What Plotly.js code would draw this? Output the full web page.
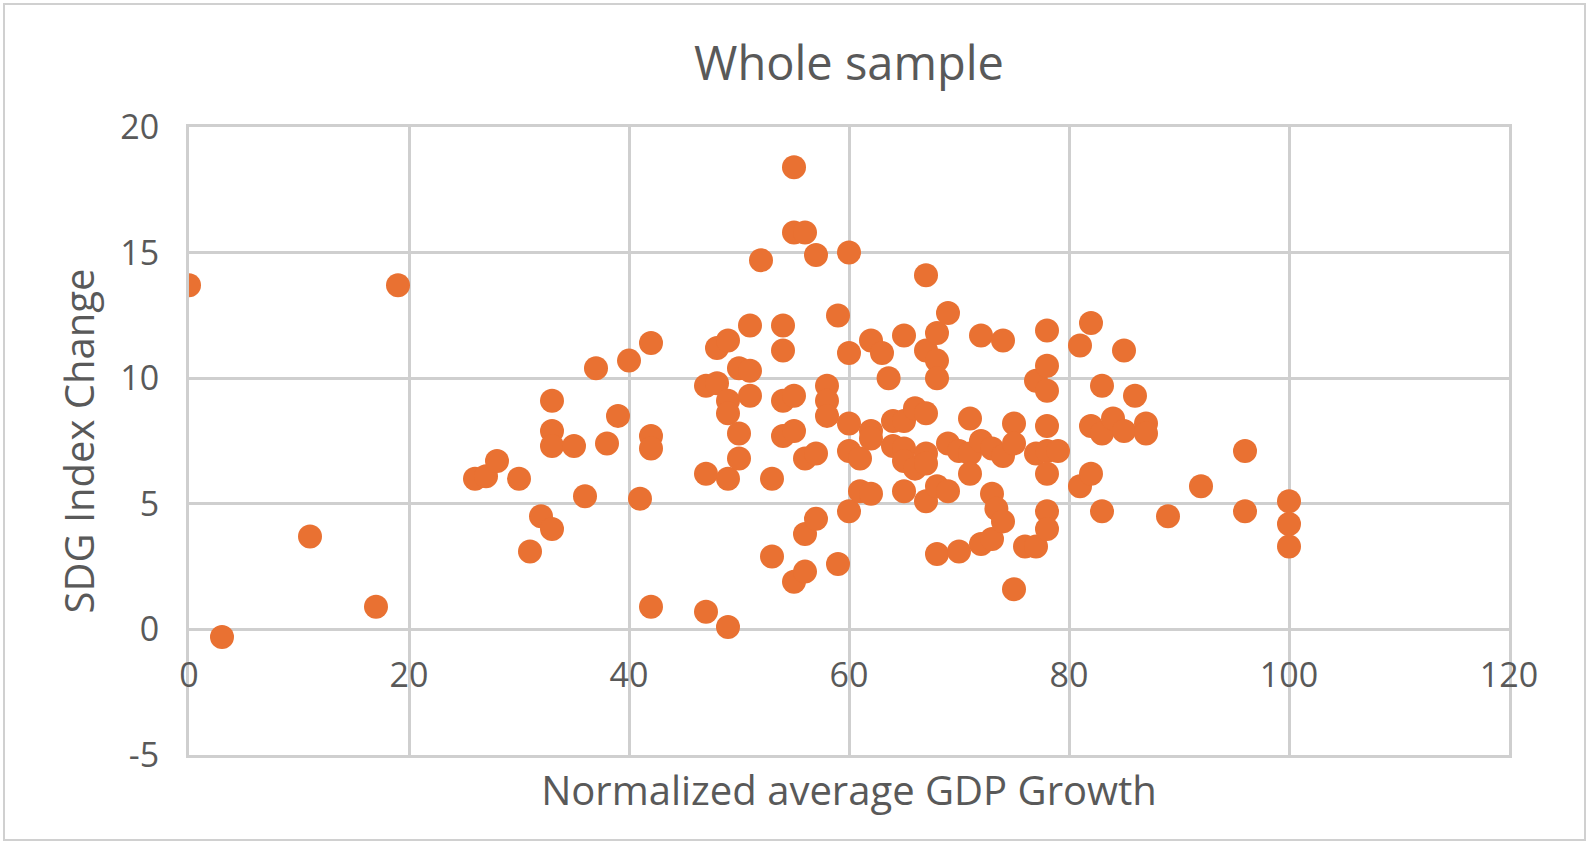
<!DOCTYPE html>
<html>
<head>
<meta charset="utf-8">
<script src="https://cdn.plot.ly/plotly-3.0.1.min.js"></script>
<style>
html,body{margin:0;padding:0;background:#fff;}
#chart{width:1591px;height:846px;}
</style>
</head>
<body>
<div id="chart"></div>
<script>
const chartTitle = "Whole sample";
const xTitle = "Normalized average GDP Growth";
const yTitle = "SDG Index Change";
const xTicks = [0, 20, 40, 60, 80, 100, 120];
const yTicks = [-5, 0, 5, 10, 15, 20];

const gdpGrowth = [
  0, 3, 11, 17, 19, 26, 27, 28, 30, 31, 32, 33, 33, 33, 33, 35, 36, 37, 38, 39,
  40, 41, 42, 42, 42, 42, 47, 47, 47, 48, 48, 49, 49, 49, 49, 49, 50, 50, 50, 51,
  51, 51, 52, 53, 53, 54, 54, 54, 54, 55, 55, 55, 55, 55, 56, 56, 56, 56, 57, 57,
  57, 58, 58, 58, 59, 59, 60, 60, 60, 60, 60, 61, 61, 62, 62, 62, 62, 63, 63.6, 64,
  64, 65, 65, 65, 65, 65, 66, 66, 67, 67, 67, 67, 67, 67, 68, 68, 68, 68, 68, 69,
  69, 69, 70, 70, 71, 71, 71, 72, 72, 72, 73, 73, 73.4, 73, 74, 74, 74, 75, 75, 75,
  76, 77, 77, 77, 78, 78, 78, 78, 78, 78, 78, 78, 79, 81, 81, 82, 82, 82, 83, 83,
  83, 84, 85, 85, 86, 87, 87, 89, 92, 96, 96, 100, 100, 100
];
const sdgChange = [
  13.7, -0.3, 3.7, 0.9, 13.7, 6.0, 6.1, 6.7, 6.0, 3.1, 4.5, 4.0, 9.1, 7.9, 7.3, 7.3, 5.3, 10.4, 7.4, 8.5,
  10.7, 5.2, 11.4, 7.7, 7.2, 0.9, 9.7, 6.2, 0.7, 9.8, 11.2, 11.5, 9.1, 8.6, 6.0, 0.1, 10.4, 7.8, 6.8, 12.1,
  10.3, 9.3, 14.7, 6.0, 2.9, 12.1, 11.1, 9.1, 7.7, 18.4, 15.8, 9.3, 7.9, 1.9, 15.8, 6.8, 3.8, 2.3, 14.9, 7.0,
  4.4, 9.7, 9.1, 8.5, 12.5, 2.6, 15.0, 11.0, 8.2, 7.1, 4.7, 6.8, 5.5, 11.5, 7.9, 7.6, 5.4, 11.0, 10.0, 8.3,
  7.3, 11.7, 8.3, 7.2, 6.7, 5.5, 8.8, 6.4, 14.1, 11.1, 8.6, 7.0, 6.6, 5.1, 11.8, 10.7, 10.0, 5.7, 3.0, 12.6,
  7.4, 5.5, 7.1, 3.1, 8.4, 7.0, 6.2, 11.7, 7.5, 3.4, 7.2, 5.4, 4.8, 3.6, 11.5, 6.9, 4.3, 8.2, 7.4, 1.6,
  3.3, 9.9, 7.0, 3.3, 11.9, 10.5, 9.5, 8.1, 7.1, 6.2, 4.7, 4.0, 7.1, 11.3, 5.7, 12.2, 8.1, 6.2, 9.7, 7.8,
  4.7, 8.4, 11.1, 7.9, 9.3, 8.2, 7.8, 4.5, 5.7, 7.1, 4.7, 5.1, 4.2, 3.3
];

const FONT = '"Open Sans", "Noto Sans", sans-serif';
const TEXT = '#595959';
const GRID = '#cfcfcf';

const traces = [
  {
    type: 'scatter', mode: 'markers',
    x: gdpGrowth, y: sdgChange,
    marker: {size: 24, color: '#E97132', line: {width: 0}},
    hoverinfo: 'x+y', showlegend: false
  },
  {
    type: 'scatter', mode: 'markers', x: [], y: [],
    xaxis: 'x2', yaxis: 'y', showlegend: false, hoverinfo: 'skip'
  }
];

const W = 1591, H = 846;
const L = 189, R = 82, T = 127, B = 91;
const pw = W - L - R, ph = H - T - B;
function px2x(p){ return (p - L) / pw; }
function py2y(p){ return (H - B - p) / ph; }

const layout = {
  width: W, height: H,
  margin: {l: L, r: R, t: T, b: B, pad: 0},
  paper_bgcolor: '#ffffff', plot_bgcolor: '#ffffff',
  font: {family: FONT, color: TEXT},
  title: {
    text: chartTitle,
    font: {size: 47, color: TEXT, family: FONT},
    x: 0.5, xref: 'paper', xanchor: 'center',
    y: 1 - 64 / H, yref: 'container', yanchor: 'middle'
  },
  xaxis: {
    range: [0, 120], tickvals: xTicks, showticklabels: false,
    showgrid: true, gridcolor: GRID, gridwidth: 3,
    zeroline: false, showline: true, linecolor: GRID, linewidth: 3, mirror: true,
    ticks: '',
    title: {text: xTitle, font: {size: 40, color: TEXT, family: FONT}, standoff: 20},
    automargin: false
  },
  xaxis2: {
    overlaying: 'x', anchor: 'free', position: 0.2,
    range: [0, 120], tickvals: xTicks, ticktext: xTicks.map(String),
    showgrid: false, zeroline: false, showline: false, ticks: '',
    tickfont: {size: 34, color: TEXT, family: FONT},
    ticklabelstandoff: 23,
    automargin: false
  },
  yaxis: {
    range: [-5, 20], tickvals: yTicks, ticktext: yTicks.map(String),
    showgrid: true, gridcolor: GRID, gridwidth: 3,
    zeroline: false, showline: true, linecolor: GRID, linewidth: 3, mirror: true,
    ticks: '',
    tickfont: {size: 34, color: TEXT, family: FONT},
    ticklabelstandoff: 20,
    title: {text: yTitle, font: {size: 40, color: TEXT, family: FONT}, standoff: 14},
    automargin: false
  },
  shapes: [{
    type: 'rect', xref: 'paper', yref: 'paper',
    x0: px2x(4), x1: px2x(1585), y0: py2y(840), y1: py2y(4),
    line: {color: '#d0d0d0', width: 2}, fillcolor: 'rgba(0,0,0,0)', layer: 'below'
  }]
};

Plotly.newPlot('chart', traces, layout, {displayModeBar: false, staticPlot: true});
</script>
</body>
</html>
